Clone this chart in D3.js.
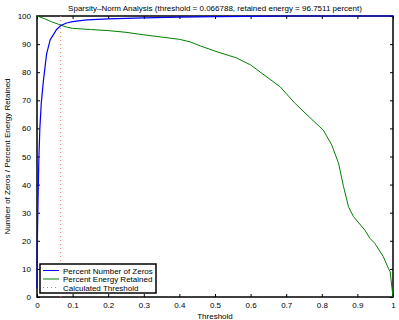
<!DOCTYPE html>
<html>
<head>
<meta charset="utf-8">
<script src="https://cdn.jsdelivr.net/npm/d3@7"></script>
<style>
body { margin: 0; background: #fff; }
text { font-family: "Liberation Sans", Arial, sans-serif; font-size: 8px; fill: #000; }
</style>
</head>
<body>
<div class="content"></div>
<script>
var titleText = "Sparsity\u2013Norm Analysis (threshold = 0.066788, retained energy = 96.7511 percent)";
var threshold = 0.066788;
var xTicks = [0, 0.1, 0.2, 0.3, 0.4, 0.5, 0.6, 0.7, 0.8, 0.9, 1];
var yTicks = [0, 10, 20, 30, 40, 50, 60, 70, 80, 90, 100];
var legendLabels = ["Percent Number of Zeros", "Percent Energy Retained", "Calculated Threshold"];

// percent number of zeros
var zerosT = [0, 0.001, 0.003, 0.005, 0.008, 0.012, 0.018, 0.027, 0.037, 0.055, 0.067, 0.083, 0.1, 0.14, 0.2, 0.3, 0.4, 0.5, 0.6, 0.7, 1];
var zerosV = [3, 20, 35, 48, 60, 69, 77, 86.5, 91.5, 95.2, 96.6, 97.5, 98, 98.6, 99, 99.35, 99.6, 99.8, 99.9, 100, 100];

// percent energy retained
var energyT = [0, 0.02, 0.04, 0.067, 0.085, 0.1, 0.15, 0.2, 0.25, 0.3, 0.35, 0.4, 0.43, 0.46, 0.5, 0.56, 0.6, 0.654, 0.683, 0.725, 0.772, 0.804, 0.828, 0.847, 0.861, 0.875, 0.889, 0.921, 0.935, 0.949, 0.973, 0.987, 0.992, 1.0];
var energyV = [100, 99.1, 98, 96.75, 96, 95.6, 95.2, 94.8, 94.2, 93.3, 92.5, 91.7, 90.8, 89.3, 87.5, 85.1, 82.6, 77.5, 74.8, 68.9, 63.2, 59.4, 54.1, 47.6, 39.3, 32.1, 28.6, 23.8, 20.9, 19.1, 14.3, 10.2, 9.0, 0];

function render(){
var margin = {top: 16, right: 6, bottom: 23, left: 37},
    width = 399 - margin.left - margin.right,
    height = 320 - margin.top - margin.bottom;

var x = d3.scaleLinear().domain([0, 1]).range([0, width]);
var y = d3.scaleLinear().domain([0, 100]).range([height, 0]);
var line = d3.line()
    .x(function(d) { return x(d[0]); })
    .y(function(d) { return y(d[1]); });

var root = d3.select(".content").append("svg")
    .attr("width", 399)
    .attr("height", 320);
var svg = root.append("g")
    .attr("transform", "translate(" + margin.left + "," + margin.top + ")");

// axes with inward ticks, MATLAB style
var fmt = function(d) { return d3.format("~g")(d); };
svg.append("g")
    .attr("transform", "translate(0," + height + ")")
    .call(d3.axisBottom(x).tickValues(xTicks).tickSize(-3).tickPadding(5).tickFormat(fmt));
svg.append("g")
    .call(d3.axisTop(x).tickValues(xTicks).tickSize(-3).tickFormat(""));
svg.append("g")
    .call(d3.axisLeft(y).tickValues(yTicks).tickSize(-3).tickPadding(6));
svg.append("g")
    .attr("transform", "translate(" + width + ",0)")
    .call(d3.axisRight(y).tickValues(yTicks).tickSize(-3).tickFormat(""));
svg.selectAll(".domain").remove();
svg.selectAll(".tick text").style("font-size", "8px").style("font-family", "Liberation Sans, Arial, sans-serif").attr("fill", "#000");

svg.append("rect")
    .attr("width", width).attr("height", height)
    .attr("fill", "none").attr("stroke", "#000").attr("stroke-width", 1.5);

var zeros = zerosT.map(function(t, i) { return [t, zerosV[i]]; });
var energy = energyT.map(function(t, i) { return [t, energyV[i]]; });

svg.append("line")
    .attr("x1", x(threshold)).attr("x2", x(threshold))
    .attr("y1", y(0)).attr("y2", y(100))
    .attr("stroke", "#ff6666").attr("stroke-width", 1)
    .attr("stroke-dasharray", "1,3");

svg.append("path").datum(energy)
    .attr("d", line).attr("fill", "none")
    .attr("stroke", "#008000").attr("stroke-width", 1);
svg.append("path").datum(zeros)
    .attr("d", line).attr("fill", "none")
    .attr("stroke", "#0000ff").attr("stroke-width", 1.2);

// legend
var lg = svg.append("g").attr("transform", "translate(3," + (height - 33) + ")");
lg.append("rect").attr("width", 116).attr("height", 29)
    .attr("fill", "#fff").attr("stroke", "#000").attr("stroke-width", 1.5);
var lcol = ["#0000ff", "#008000", "#ff6666"];
legendLabels.forEach(function(s, i) {
  var yy = 6.5 + i * 8.5;
  lg.append("line").attr("x1", 3).attr("x2", 19).attr("y1", yy).attr("y2", yy)
    .attr("stroke", lcol[i]).attr("stroke-width", 1)
    .attr("stroke-dasharray", i == 2 ? "1,3" : null);
  lg.append("text").attr("x", 23).attr("y", yy + 3).text(s);
});

root.append("text")
    .attr("x", margin.left + width / 2).attr("y", 11)
    .attr("text-anchor", "middle").text(titleText);
root.append("text")
    .attr("x", margin.left + width / 2).attr("y", 319)
    .attr("text-anchor", "middle").text("Threshold");
root.append("text")
    .attr("transform", "translate(10," + (margin.top + height / 2) + ") rotate(-90)")
    .attr("text-anchor", "middle").text("Number of Zeros / Percent Energy Retained");
}
render();
</script>
</body>
</html>
